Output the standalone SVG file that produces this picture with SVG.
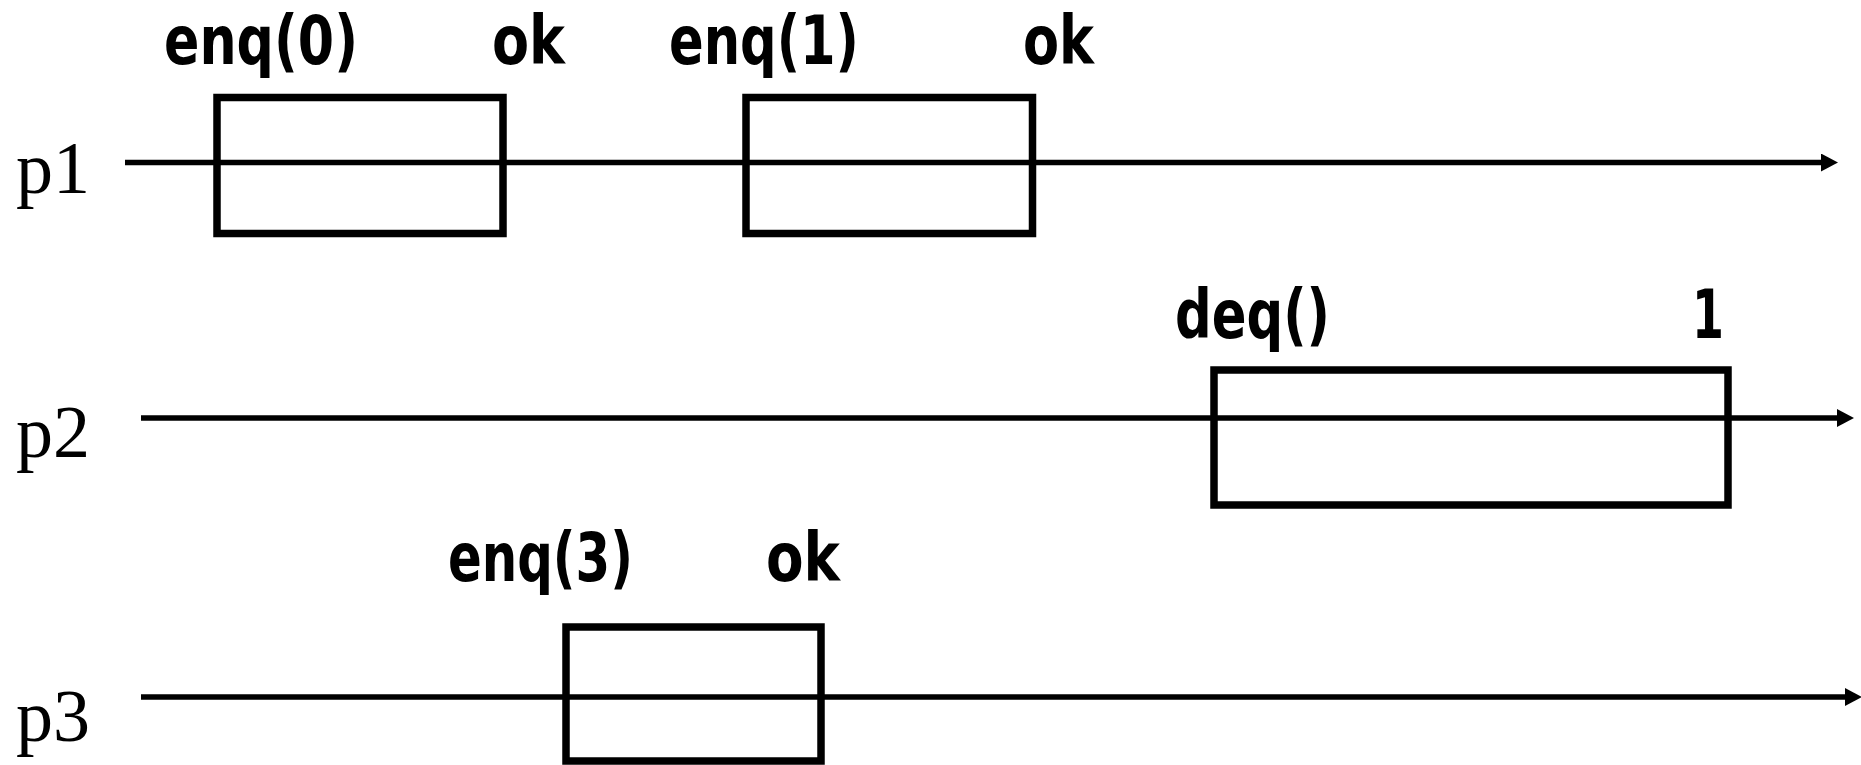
<svg xmlns="http://www.w3.org/2000/svg" width="1861" height="765" viewBox="0 0 1861 765">
  <style>
    .axis { stroke: #000; stroke-width: 5.5; fill: none; }
    .op { stroke: #000; stroke-width: 7.5; fill: none; }
    .proc { font-family: "Liberation Serif", "Times New Roman", serif; font-size: 74px; fill: #000; }
    .call { font-family: "DejaVu Sans", "Liberation Sans", sans-serif; font-weight: bold; font-size: 68px; fill: #000; }
  </style>
  <defs>
    <marker id="arrow" markerUnits="userSpaceOnUse" markerWidth="18" markerHeight="18" refX="0" refY="9" orient="auto">
      <path d="M0,0 L17,9 L0,18 Z" fill="#000"/>
    </marker>
  </defs>
  <rect width="1861" height="765" fill="#fff"/>

  <!-- process time lines -->
  <g id="timelines">
    <line class="axis" x1="125" y1="162.5" x2="1821" y2="162.5" marker-end="url(#arrow)"/>
    <line class="axis" x1="141" y1="418" x2="1837" y2="418" marker-end="url(#arrow)"/>
    <line class="axis" x1="141" y1="697" x2="1845" y2="697" marker-end="url(#arrow)"/>
  </g>

  <!-- process names -->
  <g id="p1-label"><text class="proc" x="16" y="193">p1</text></g>
  <g id="p2-label"><text class="proc" x="16" y="457">p2</text></g>
  <g id="p3-label"><text class="proc" x="16" y="741">p3</text></g>

  <!-- p1: enq(0) -->
  <g id="op-enq0">
    <rect class="op" x="217" y="97.5" width="286" height="136"/>
    <text class="call" x="164" y="64" textLength="194" lengthAdjust="spacingAndGlyphs">enq(0)</text>
    <text class="call" x="492" y="64" textLength="73" lengthAdjust="spacingAndGlyphs">ok</text>
  </g>

  <!-- p1: enq(1) -->
  <g id="op-enq1">
    <rect class="op" x="746" y="97.5" width="286.5" height="136"/>
    <text class="call" x="669" y="64" textLength="190" lengthAdjust="spacingAndGlyphs">enq(1)</text>
    <text class="call" x="1023" y="64" textLength="71" lengthAdjust="spacingAndGlyphs">ok</text>
  </g>

  <!-- p2: deq() -->
  <g id="op-deq">
    <rect class="op" x="1214" y="370" width="514" height="135"/>
    <text class="call" x="1175" y="338" textLength="155" lengthAdjust="spacingAndGlyphs">deq()</text>
    <text class="call" x="1692" y="338" textLength="32" lengthAdjust="spacingAndGlyphs">1</text>
  </g>

  <!-- p3: enq(3) -->
  <g id="op-enq3">
    <rect class="op" x="566" y="627" width="255" height="134"/>
    <text class="call" x="448" y="581" textLength="185" lengthAdjust="spacingAndGlyphs">enq(3)</text>
    <text class="call" x="766" y="581" textLength="74" lengthAdjust="spacingAndGlyphs">ok</text>
  </g>
</svg>
